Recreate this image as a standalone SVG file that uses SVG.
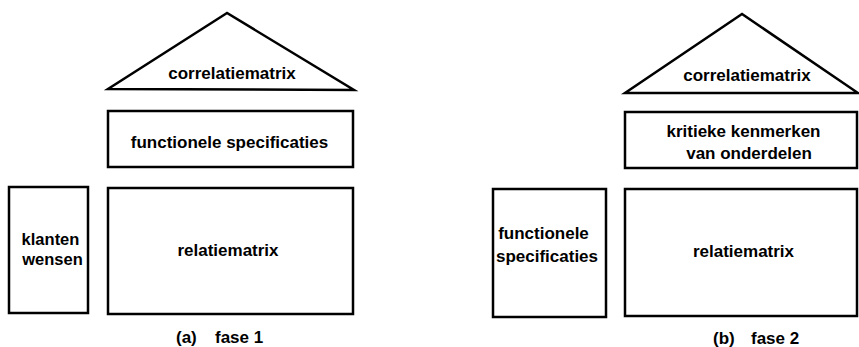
<svg xmlns="http://www.w3.org/2000/svg" width="859" height="347" viewBox="0 0 859 347">
  <style>
    .shape { fill: #ffffff; stroke: #000000; stroke-width: 2.5; stroke-linejoin: miter; }
    .lbl { font-family: "Liberation Sans", Arial, Helvetica, sans-serif; font-size: 17px; font-weight: bold; fill: #000000; text-anchor: middle; }
    .sm { font-size: 16.5px; }
    .cap { font-family: "Liberation Sans", Arial, Helvetica, sans-serif; font-size: 17px; font-weight: bold; fill: #000000; }
  </style>
  <rect width="859" height="347" fill="#ffffff"/>

  <!-- Phase 1 -->
  <g id="a-roof">
    <polygon class="shape" points="227,13 108,89 354,90"/>
    <text class="lbl" x="232" y="79">correlatiematrix</text>
  </g>
  <g id="a-functional-specs">
    <rect class="shape" x="108" y="111" width="245" height="56"/>
    <text class="lbl" x="229.5" y="148">functionele specificaties</text>
  </g>
  <g id="a-customer-needs">
    <rect class="shape" x="9" y="187" width="79" height="126"/>
    <text class="lbl sm" x="50.5" y="245">klanten</text>
    <text class="lbl sm" x="52.5" y="264.5">wensen</text>
  </g>
  <g id="a-relationship-matrix">
    <rect class="shape" x="108" y="188" width="245" height="126"/>
    <text class="lbl" x="228" y="256">relatiematrix</text>
  </g>
  <g id="a-caption">
    <text class="cap" x="176" y="343">(a)</text>
    <text class="cap" x="215" y="343">fase 1</text>
  </g>

  <!-- Phase 2 -->
  <g id="b-roof">
    <polygon class="shape" points="742,14 625,93 858,93"/>
    <text class="lbl" x="747" y="81">correlatiematrix</text>
  </g>
  <g id="b-critical-features">
    <rect class="shape" x="625" y="112" width="232" height="56"/>
    <text class="lbl" x="743.5" y="137">kritieke kenmerken</text>
    <text class="lbl" x="749" y="159">van onderdelen</text>
  </g>
  <g id="b-functional-specs">
    <rect class="shape" x="493" y="189" width="113" height="128"/>
    <text class="lbl" x="543.5" y="239">functionele</text>
    <text class="lbl" x="547" y="262">specificaties</text>
  </g>
  <g id="b-relationship-matrix">
    <rect class="shape" x="625" y="189" width="232" height="127"/>
    <text class="lbl" x="743.5" y="257">relatiematrix</text>
  </g>
  <g id="b-caption">
    <text class="cap" x="713" y="344">(b)</text>
    <text class="cap" x="751" y="344">fase 2</text>
  </g>

  <g id="connectors"/>
</svg>
